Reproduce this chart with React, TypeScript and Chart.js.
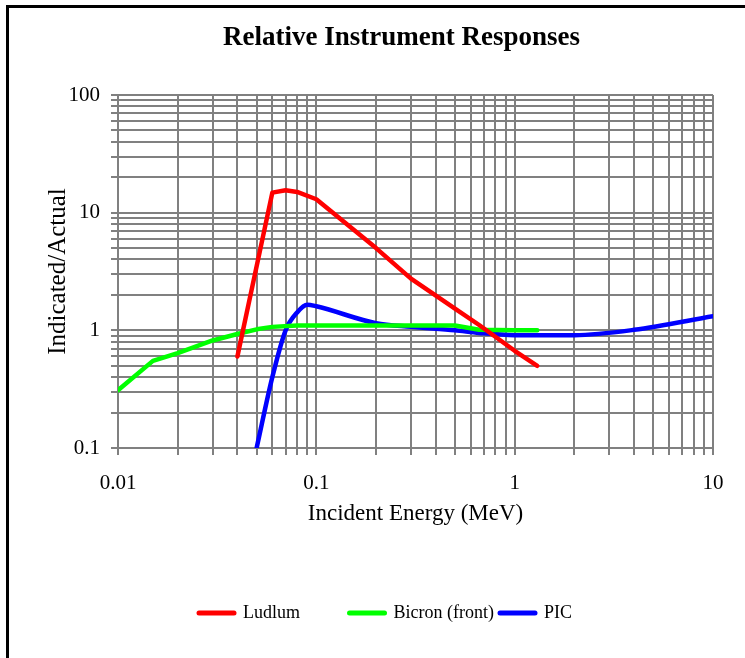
import React, { useEffect, useRef } from 'react';
import { Chart, registerables } from 'chart.js';

Chart.register(...registerables);

const FONT = "'Liberation Serif', 'Times New Roman', serif";

const TITLE = 'Relative Instrument Responses';
const X_TITLE = 'Incident Energy (MeV)';
const Y_TITLE = 'Indicated/Actual';

const X_MAJOR_VALUES = [0.01, 0.1, 1, 10];
const X_TICK_LABELS = ['0.01', '0.1', '1', '10'];
const Y_MAJOR_VALUES = [0.1, 1, 10, 100];
const Y_TICK_LABELS = ['0.1', '1', '10', '100'];
const MINOR_MULTIPLIERS = [2, 3, 4, 5, 6, 7, 8, 9];

const SERIES_NAMES = ['Ludlum', 'Bicron (front)', 'PIC'];
const SERIES_COLORS = ['#FF0000', '#00FF00', '#0000FF'];

const LUDLUM_ENERGY = [0.04, 0.06, 0.07, 0.08, 0.1, 0.2, 0.3, 0.5, 0.662, 1, 1.3];
const LUDLUM_RESPONSE = [0.6, 14.8, 15.5, 15, 13, 5, 2.75, 1.53, 1.11, 0.67, 0.5];

const BICRON_ENERGY = [0.01, 0.015, 0.02, 0.03, 0.04, 0.05, 0.06, 0.08, 0.1, 0.2, 0.5, 0.662, 1, 1.3];
const BICRON_RESPONSE = [0.31, 0.55, 0.64, 0.82, 0.93, 1.02, 1.07, 1.1, 1.1, 1.1, 1.1, 1.01, 1.0, 1.0];

const PIC_ENERGY = [0.05, 0.06, 0.07, 0.08, 0.09, 0.1, 0.2, 0.3, 0.5, 0.662, 1, 2, 4, 10];
const PIC_RESPONSE = [0.1, 0.4, 1.0, 1.42, 1.65, 1.6, 1.15, 1.07, 1.0, 0.95, 0.91, 0.91, 1.01, 1.32];

function buildLogTicks(majors: number[]) {
  const out: { value: number }[] = [];
  majors.forEach((m, i) => {
    out.push({ value: m });
    if (i < majors.length - 1) {
      MINOR_MULTIPLIERS.forEach((k) => out.push({ value: +(m * k).toPrecision(8) }));
    }
  });
  return out;
}

function majorLabel(v: number, values: number[], labels: string[]) {
  for (let i = 0; i < values.length; i++) {
    if (Math.abs(v - values[i]) / values[i] < 1e-6) return labels[i];
  }
  return '';
}

function toPoints(xs: number[], ys: number[]) {
  return xs.map((x, i) => ({ x, y: ys[i] }));
}

const decorPlugin = {
  id: 'decor',
  afterDraw(chart: any) {
    const ctx = chart.ctx as CanvasRenderingContext2D;
    ctx.save();
    // frame (left and top edges visible)
    ctx.fillStyle = '#000';
    ctx.fillRect(6, 5, 745, 3);
    ctx.fillRect(6, 5, 3, 660);
    // title
    ctx.fillStyle = '#000';
    ctx.font = `bold 27px ${FONT}`;
    ctx.textAlign = 'center';
    ctx.textBaseline = 'middle';
    ctx.fillText(TITLE, 401.5, 38);
    // legend
    const ds = chart.data.datasets;
    const startX = 197;
    const step = 150.5;
    const y = 613;
    ctx.font = `18px ${FONT}`;
    ctx.textAlign = 'left';
    ctx.textBaseline = 'middle';
    ds.forEach((d: any, i: number) => {
      const x0 = startX + i * step;
      ctx.strokeStyle = d.borderColor;
      ctx.lineWidth = 5;
      ctx.lineCap = 'round';
      ctx.beginPath();
      ctx.moveTo(x0 + 2, y);
      ctx.lineTo(x0 + 37, y);
      ctx.stroke();
      ctx.fillStyle = '#000';
      ctx.fillText(d.label, x0 + 46, y);
    });
    ctx.restore();
  },
};

export default function App() {
  const ref = useRef<HTMLCanvasElement>(null);

  useEffect(() => {
    if (!ref.current) return;
    const lineBase = {
      borderWidth: 4.5,
      pointRadius: 0,
      pointHoverRadius: 0,
      fill: false,
      borderCapStyle: 'round' as const,
      borderJoinStyle: 'round' as const,
    };
    const chart = new Chart(ref.current, {
      type: 'line',
      data: {
        datasets: [
          {
            ...lineBase,
            label: SERIES_NAMES[0],
            data: toPoints(LUDLUM_ENERGY, LUDLUM_RESPONSE),
            borderColor: SERIES_COLORS[0],
            backgroundColor: SERIES_COLORS[0],
            tension: 0,
          },
          {
            ...lineBase,
            label: SERIES_NAMES[1],
            data: toPoints(BICRON_ENERGY, BICRON_RESPONSE),
            borderColor: SERIES_COLORS[1],
            backgroundColor: SERIES_COLORS[1],
            tension: 0,
          },
          {
            ...lineBase,
            label: SERIES_NAMES[2],
            data: toPoints(PIC_ENERGY, PIC_RESPONSE),
            borderColor: SERIES_COLORS[2],
            backgroundColor: SERIES_COLORS[2],
            cubicInterpolationMode: 'monotone',
          },
        ],
      },
      options: {
        responsive: false,
        animation: false,
        events: [],
        layout: { padding: { left: 0, top: 95, right: 32, bottom: 130 } },
        plugins: {
          legend: { display: false },
          title: { display: false },
          tooltip: { enabled: false },
        },
        scales: {
          x: {
            type: 'logarithmic',
            position: 'bottom',
            min: 0.01,
            max: 10,
            afterBuildTicks: (s: any) => {
              s.ticks = buildLogTicks(X_MAJOR_VALUES);
            },
            afterFit: (s: any) => {
              s.height = 80;
            },
            grid: { color: '#808080', lineWidth: 2, tickLength: 7, drawTicks: true },
            border: { color: '#808080', width: 2 },
            ticks: {
              autoSkip: false,
              maxRotation: 0,
              minRotation: 0,
              padding: 16,
              color: '#000',
              font: { family: FONT, size: 21 },
              callback: (v: any) => majorLabel(Number(v), X_MAJOR_VALUES, X_TICK_LABELS),
            },
            title: {
              display: true,
              text: X_TITLE,
              color: '#000',
              font: { family: FONT, size: 23 },
              padding: { top: 0, bottom: 0 },
            },
          },
          y: {
            type: 'logarithmic',
            position: 'left',
            min: 0.1,
            max: 100,
            afterBuildTicks: (s: any) => {
              s.ticks = buildLogTicks(Y_MAJOR_VALUES);
            },
            afterFit: (s: any) => {
              s.width = 118;
            },
            grid: { color: '#808080', lineWidth: 2, tickLength: 7, drawTicks: true },
            border: { color: '#808080', width: 2 },
            ticks: {
              autoSkip: false,
              padding: 11,
              color: '#000',
              font: { family: FONT, size: 21 },
              callback: (v: any) => majorLabel(Number(v), Y_MAJOR_VALUES, Y_TICK_LABELS),
            },
            title: {
              display: true,
              text: Y_TITLE,
              color: '#000',
              font: { family: FONT, size: 25 },
              padding: { top: 43, bottom: 0 },
            },
          },
        },
      },
      plugins: [decorPlugin],
    });
    return () => chart.destroy();
  }, []);

  return (
    <div style={{ position: 'absolute', left: 0, top: 0, width: 745, height: 658, background: '#fff' }}>
      <canvas ref={ref} width={745} height={658} style={{ display: 'block' }} />
    </div>
  );
}
